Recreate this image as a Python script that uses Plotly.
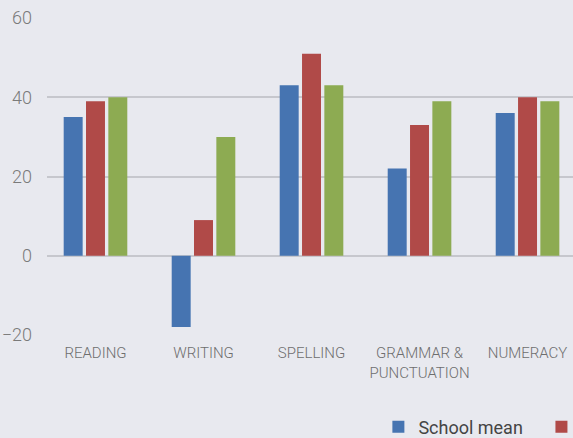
import plotly.graph_objects as go

categories = ["READING", "WRITING", "SPELLING", "GRAMMAR &<br>PUNCTUATION", "NUMERACY"]
school_mean = [35, -18, 43, 22, 36]
similar_schools = [39, 9, 51, 33, 40]
all_schools = [40, 30, 43, 39, 39]
y_ticks = [-20, 0, 20, 40, 60]

colors = ["#4674b1", "#b04a48", "#8dab52"]
FONT = "Roboto"

fig = go.Figure()
fig.add_trace(go.Bar(x=categories, y=school_mean, name="School mean", showlegend=True,
                     marker=dict(color=colors[0], line=dict(width=0)), legend="legend"))
fig.add_trace(go.Bar(x=categories, y=similar_schools, name="Similar schools mean", showlegend=True,
                     marker=dict(color=colors[1], line=dict(width=0)), legend="legend2"))
fig.add_trace(go.Bar(x=categories, y=all_schools, name="All schools mean", showlegend=True,
                     marker=dict(color=colors[2], line=dict(width=0)), legend="legend3"))

legend_font = dict(size=18, color="#444444", family=FONT)
fig.update_layout(
    width=573, height=438, showlegend=True,
    paper_bgcolor="#e8e9ef", plot_bgcolor="#e8e9ef",
    margin=dict(l=47, r=0, t=18, b=103, autoexpand=False),
    barmode="group", bargap=0.38, bargroupgap=0.15,
    font=dict(family=FONT, color="#777777"),
    legend=dict(visible=True, orientation="h", x=0.630, y=-0.29, xanchor="left", yanchor="middle",
                font=legend_font, bgcolor="rgba(0,0,0,0)"),
    legend2=dict(visible=True, orientation="h", x=0.940, y=-0.29, xanchor="left", yanchor="middle",
                 font=legend_font, bgcolor="rgba(0,0,0,0)"),
    legend3=dict(visible=True, orientation="h", x=1.6, y=-0.29, xanchor="left", yanchor="middle",
                 font=legend_font, bgcolor="rgba(0,0,0,0)"),
)
fig.update_xaxes(range=[-0.449, 4.421], showgrid=False, showline=False, zeroline=False,
                 tickfont=dict(size=15, color="#6e6e6e", family=FONT, weight=300), ticks="",
                 ticklabelstandoff=7)
fig.update_yaxes(range=[-20, 60], tickvals=y_ticks, showgrid=True, gridcolor="#c6c7cd",
                 gridwidth=2, zeroline=False, showline=False,
                 tickfont=dict(size=18, color="#7a7a7a", family=FONT, weight=300), ticks="",
                 ticklabelstandoff=14)

fig.write_html("out.html", config={"displayModeBar": False},
               post_script="document.body.style.margin='0';document.body.style.overflow='hidden';")
